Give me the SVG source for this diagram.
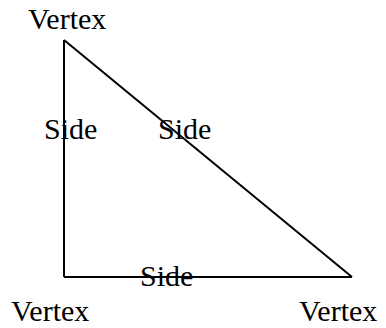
<svg xmlns="http://www.w3.org/2000/svg" width="386" height="328" viewBox="0 0 386 328">
<style>
text{font-family:"Liberation Serif","Times New Roman",serif;font-size:30px;fill:#000}
.edge{stroke:#000;stroke-width:2;fill:none}
</style>
<rect width="386" height="328" fill="#fff"/>
<g id="connectors">
<line class="edge" x1="64" y1="40" x2="64" y2="277"/>
<line class="edge" x1="64" y1="277" x2="352" y2="277"/>
<line class="edge" x1="64" y1="40" x2="352" y2="277"/>
</g>
<g id="vertex-top"><text x="28" y="29">Vertex</text></g>
<g id="vertex-bl"><text x="11" y="321">Vertex</text></g>
<g id="vertex-br"><text x="299" y="321">Vertex</text></g>
<g id="side-left"><text x="44" y="139">Side</text></g>
<g id="side-hyp"><text x="158" y="139">Side</text></g>
<g id="side-bottom"><text x="140" y="286">Side</text></g>
</svg>
